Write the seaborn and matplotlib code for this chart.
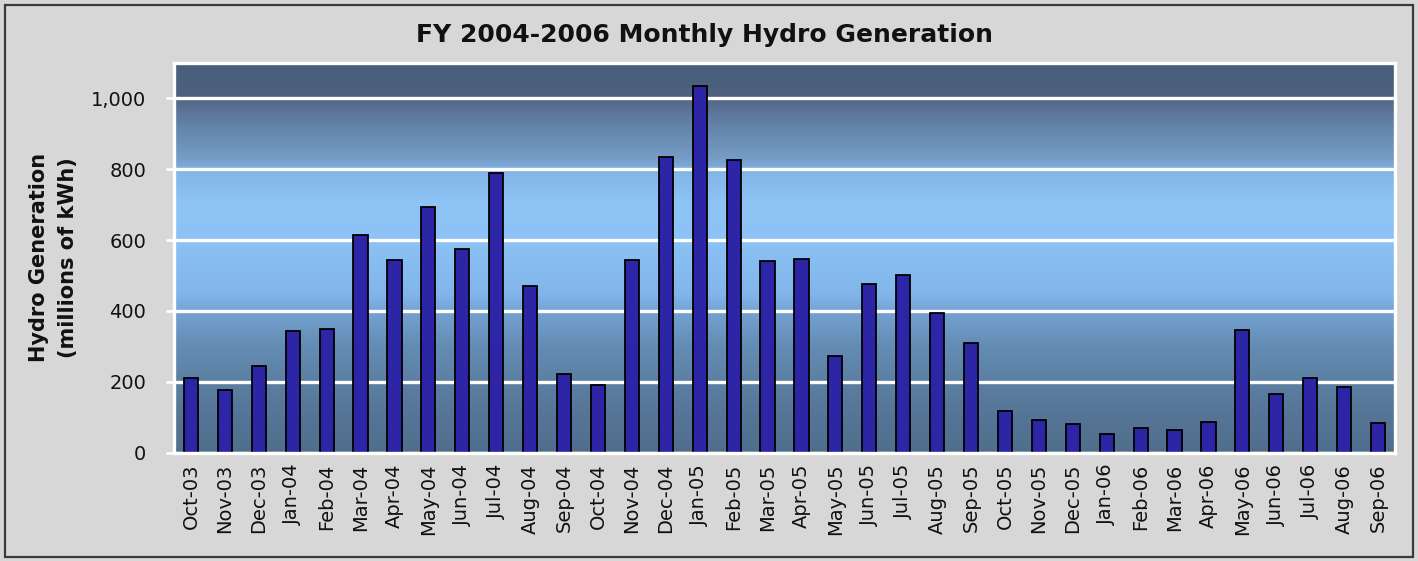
import numpy as np
import pandas as pd
import matplotlib
matplotlib.use("Agg")
import matplotlib.pyplot as plt
from matplotlib.colors import LinearSegmentedColormap
from matplotlib.patches import Rectangle
import seaborn as sns

months = ["Oct-03", "Nov-03", "Dec-03", "Jan-04", "Feb-04", "Mar-04", "Apr-04", "May-04",
          "Jun-04", "Jul-04", "Aug-04", "Sep-04", "Oct-04", "Nov-04", "Dec-04", "Jan-05",
          "Feb-05", "Mar-05", "Apr-05", "May-05", "Jun-05", "Jul-05", "Aug-05", "Sep-05",
          "Oct-05", "Nov-05", "Dec-05", "Jan-06", "Feb-06", "Mar-06", "Apr-06", "May-06",
          "Jun-06", "Jul-06", "Aug-06", "Sep-06"]
generation = [211, 177, 245, 343, 348, 615, 545, 693,
              576, 789, 470, 221, 191, 543, 836, 1036,
              827, 541, 548, 272, 477, 502, 395, 310,
              119, 91, 81, 52, 70, 64, 86, 346,
              167, 211, 186, 85]
yticks = [0, 200, 400, 600, 800, 1000]
ytick_labels = ["0", "200", "400", "600", "800", "1,000"]

df = pd.DataFrame({"Month": months, "Generation": generation})

sns.set_theme(style="white")
plt.rcParams["font.family"] = ["DejaVu Sans"]

fig = plt.figure(figsize=(14.18, 5.61), dpi=100)
fig.patch.set_facecolor("#d7d7d7")
fig.patches.append(Rectangle((5 / 1418, 4 / 561), 1408 / 1418, 552 / 561,
                             transform=fig.transFigure, fill=False,
                             edgecolor="#3a3a3a", linewidth=1.6, zorder=10))

ax = fig.add_axes([174 / 1418, 1 - 452.7 / 561, (1395 - 174) / 1418, (452.7 - 63) / 561])

# gradient background
stops = [(0.0, (80, 110, 140)), (100, (86, 116, 150)), (200, (92, 128, 163)),
         (300, (100, 140, 180)), (390, (115, 160, 208)), (450, (130, 182, 235)),
         (600, (140, 194, 245)), (700, (142, 196, 246)), (790, (133, 182, 232)),
         (830, (118, 158, 200)), (920, (100, 133, 170)), (990, (86, 108, 142)),
         (1010, (78, 98, 128)), (1100, (72, 94, 122))]
ymax = 1100
cmap = LinearSegmentedColormap.from_list(
    "bg", [(v / ymax, tuple(c / 255 for c in col)) for v, col in stops])
grad = np.linspace(0, 1, 400).reshape(-1, 1)
ax.imshow(grad, extent=[-0.5, len(months) - 0.5, 0, ymax], origin="lower",
          aspect="auto", cmap=cmap, zorder=0)

sns.barplot(data=df, x="Month", y="Generation", ax=ax, color="#2c25a6",
            width=0.42, edgecolor="black", linewidth=1.3, saturation=1, zorder=2)

ax.set_xlim(-0.5, len(months) - 0.5)
ax.set_ylim(0, ymax)
ax.set_yticks(yticks)
ax.set_yticklabels(ytick_labels)
ax.grid(axis="y", color="white", linewidth=2.4, zorder=1)
ax.grid(axis="x", visible=False)
ax.set_axisbelow(True)
for s in ["left", "bottom", "top", "right"]:
    ax.spines[s].set_visible(True)
    ax.spines[s].set_color("white")
    ax.spines[s].set_linewidth(2.4)

ax.set_xticks(np.arange(len(months)) + 0.5, minor=True)
ax.tick_params(axis="x", which="major", length=0, labelrotation=90, labelsize=14, pad=8)
ax.tick_params(axis="x", which="minor", length=7, width=2, color="white", direction="out")
ax.tick_params(axis="y", which="major", length=6, width=2, color="white",
               labelsize=14, pad=14, left=True)
for lbl in ax.get_xticklabels() + ax.get_yticklabels():
    lbl.set_color("#111111")

ax.set_xlabel("")
ax.set_ylabel("Hydro Generation\n(millions of kWh)", fontsize=15, fontweight="bold",
              linespacing=1.55, color="#111111")
ax.yaxis.set_label_coords(-0.079, 0.5)

fig.text(0.497, 1 - 35 / 561, "FY 2004-2006 Monthly Hydro Generation", ha="center",
         va="center", fontsize=18, fontweight="bold", color="#111111")

fig.savefig("out.png", dpi=100, facecolor=fig.get_facecolor())
